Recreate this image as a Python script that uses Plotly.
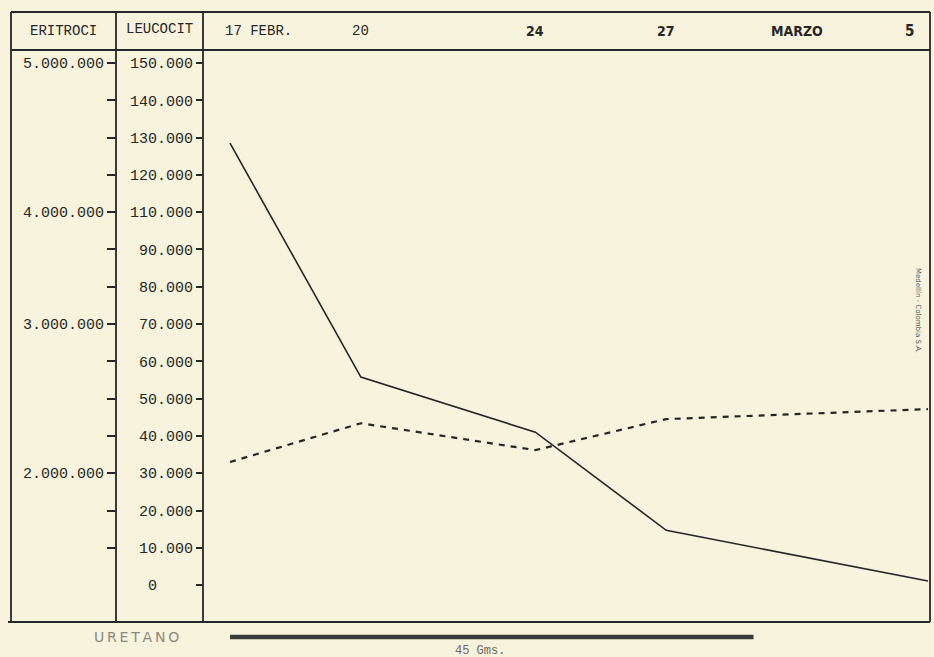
import numpy as np
import plotly.graph_objects as go

# ---------------- data ----------------
DATES = ["1959-02-17", "1959-02-20", "1959-02-24", "1959-02-27", "1959-03-05"]
LEUCOCITOS = [128500, 55800, 41000, 14700, 1100]          # solid line
ERITROCITOS = [2075000, 2335000, 2155000, 2363000, 2430000]  # dashed line

# LEUCOCIT scale as printed (note: 100.000 is absent on the original scale)
LEU_TICK_VALUES = [0, 10000, 20000, 30000, 40000, 50000, 60000, 70000, 80000,
                   90000, 110000, 120000, 130000, 140000, 150000]
LEU_TICK_TEXT = ["0\u00a0\u00a0\u00a0\u00a0", "10.000", "20.000", "30.000", "40.000",
                 "50.000", "60.000", "70.000", "80.000", "90.000", "110.000",
                 "120.000", "130.000", "140.000", "150.000"]
# ERITROCI scale as printed, sharing the same ruled rows
ERI_TICK_VALUES = [2000000, 3000000, 4000000, 5000000]
ERI_TICK_TEXT = ["2.000.000", "3.000.000", "4.000.000", "5.000.000"]
ERI_TICK_ROWS = [3, 7, 10, 14]
ERI_MARK_ROWS = list(range(1, 15))

HEADER_DATES = ["1959-02-17", "1959-02-20", "1959-02-24", "1959-02-27", "1959-03-02", "1959-03-05"]
HEADER_TEXT = ["17 FEBR.", "20", "24", "27", "MARZO", "5"]
URETANO_PERIOD = ["1959-02-17", "1959-03-01"]
URETANO_DOSE = "45 Gms."

# ---------------- styling ----------------
W, H = 934, 657
BG = "#f7f3dc"
INK = "#262626"
MONO = "Liberation Mono, Courier New, monospace"
NARROW = "Liberation Sans Narrow, DejaVu Sans Condensed, Arial Narrow, sans-serif"

ML, MR, MT, MB = 0, 4, 50, 35
PW, PH = W - ML - MR, H - MT - MB


def px(xp):
    return (xp - ML) / PW


def py(yp):
    return (H - MB - yp) / PH


rows = list(range(len(LEU_TICK_VALUES)))
leu_pos = np.interp(LEUCOCITOS, LEU_TICK_VALUES, rows)
eri_pos = np.interp(ERITROCITOS, ERI_TICK_VALUES, ERI_TICK_ROWS)
y_range = [-0.99, 14.35]

fig = go.Figure()
fig.add_trace(go.Scatter(x=DATES, y=eri_pos, mode="lines", yaxis="y2",
                         name="Eritrocitos",
                         line=dict(color=INK, width=2.2, dash="6px,6px")))
fig.add_trace(go.Scatter(x=DATES, y=leu_pos, mode="lines", yaxis="y",
                         name="Leucocitos",
                         line=dict(color=INK, width=1.6)))

eri_text = []
for r in ERI_MARK_ROWS:
    eri_text.append(ERI_TICK_TEXT[ERI_TICK_ROWS.index(r)] if r in ERI_TICK_ROWS else "")

fig.update_layout(
    width=W, height=H,
    margin=dict(l=ML, r=MR, t=MT, b=MB, autoexpand=False),
    paper_bgcolor=BG, plot_bgcolor=BG,
    showlegend=False,
    xaxis=dict(type="date", domain=[px(203), 1],
               range=["1959-02-16 09:09", "1959-03-05 01:06"],
               showgrid=False, zeroline=False, showline=False,
               showticklabels=False, ticks=""),
    yaxis=dict(range=y_range, tickmode="array", tickvals=rows, ticktext=LEU_TICK_TEXT,
               showgrid=False, zeroline=False, showline=False,
               ticks="outside", ticklen=6, tickwidth=1.5, tickcolor=INK,
               tickfont=dict(family=MONO, size=15, color=INK), automargin=False),
    yaxis2=dict(range=y_range, overlaying="y", anchor="free", position=px(116), side="left",
                tickmode="array", tickvals=ERI_MARK_ROWS, ticktext=eri_text,
                showgrid=False, zeroline=False, showline=False,
                ticks="outside", ticklen=9, tickwidth=1.5, tickcolor=INK,
                tickfont=dict(family=MONO, size=15, color=INK), automargin=False),
)

# ruled frame
line = dict(color=INK, width=1.8)
shapes = [
    dict(type="line", xref="paper", yref="paper", x0=px(11), x1=px(930), y0=py(12), y1=py(12), line=line),
    dict(type="line", xref="paper", yref="paper", x0=px(11), x1=px(930), y0=py(50), y1=py(50), line=line),
    dict(type="line", xref="paper", yref="paper", x0=px(8), x1=px(930), y0=py(622), y1=py(622), line=line),
    dict(type="line", xref="paper", yref="paper", x0=px(11), x1=px(11), y0=py(12), y1=py(622), line=line),
    dict(type="line", xref="paper", yref="paper", x0=px(116), x1=px(116), y0=py(12), y1=py(622), line=line),
    dict(type="line", xref="paper", yref="paper", x0=px(203), x1=px(203), y0=py(12), y1=py(622), line=line),
    dict(type="line", xref="paper", yref="paper", x0=px(930), x1=px(930), y0=py(12), y1=py(622), line=line),
    # urethane treatment bar
    dict(type="line", xref="x", yref="paper", x0=URETANO_PERIOD[0], x1=URETANO_PERIOD[1],
         y0=py(637), y1=py(637), line=dict(color="#3a3a3a", width=4.5)),
]
fig.update_layout(shapes=shapes)

ann = [
    dict(text="ERITROCI", xref="paper", yref="paper", x=px(63), y=py(31),
         font=dict(family=MONO, size=14, color=INK)),
    dict(text="LEUCOCIT", xref="paper", yref="paper", x=px(159), y=py(29),
         font=dict(family=MONO, size=14, color=INK)),
    dict(text="U\u2009R\u2009E\u2009T\u2009A\u2009N\u2009O", xref="paper", yref="paper",
         x=px(136), y=py(637), font=dict(family="DejaVu Sans", size=14, color="#8a8a80")),
    dict(text=URETANO_DOSE, xref="paper", yref="paper", x=px(480), y=py(651),
         font=dict(family=MONO, size=12, color="#6a6a66")),
    dict(text="Medellín - Colombia S.A.", xref="paper", yref="paper", x=px(918), y=py(310),
         textangle=90, font=dict(family="DejaVu Sans", size=7, color="#555555")),
]
for d, t in zip(HEADER_DATES, HEADER_TEXT):
    a = dict(text=t, xref="x", yref="paper", x=d, y=py(31))
    if t == "17 FEBR.":
        a.update(xanchor="left", xshift=-7, font=dict(family=MONO, size=14, color=INK))
    elif t == "20":
        a.update(font=dict(family=MONO, size=14, color=INK))
    elif t == "5":
        a.update(text="<b>5</b>", xanchor="right", xshift=-12,
                 font=dict(family=NARROW, size=15, color=INK))
    else:
        a.update(text="<b>" + t + "</b>", font=dict(family=NARROW, size=14, color=INK))
    ann.append(a)
for a in ann:
    a.setdefault("showarrow", False)
    a.setdefault("xanchor", "center")
    a.setdefault("yanchor", "middle")
fig.update_layout(annotations=ann)

fig.write_html("out.html", config={"displayModeBar": False},
               post_script="document.body.style.margin='0';")
